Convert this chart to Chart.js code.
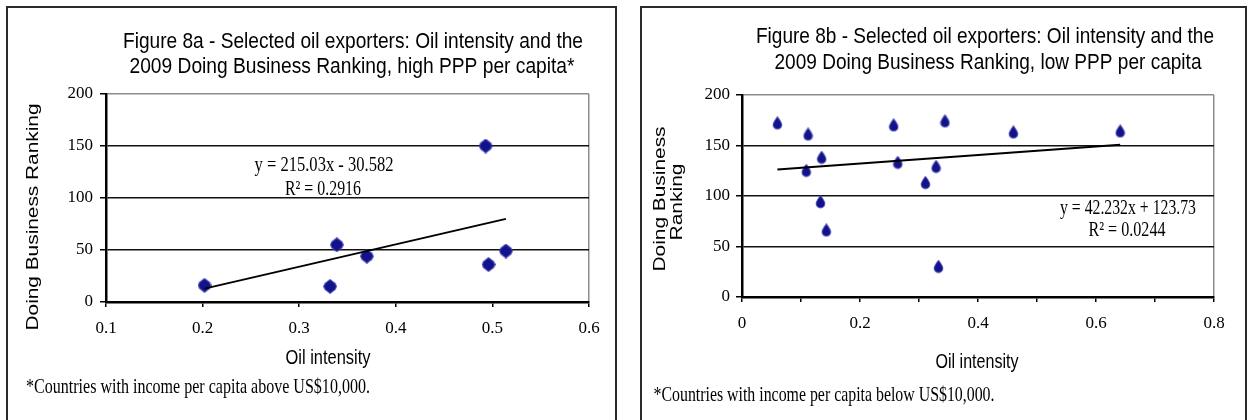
<!DOCTYPE html>
<html>
<head>
<meta charset="utf-8">
<title>Oil intensity and the 2009 Doing Business Ranking</title>
<script src="https://cdn.jsdelivr.net/npm/chart.js@4.4.0/dist/chart.umd.min.js"></script>
<style>
  html, body { margin: 0; padding: 0; background: #fff; overflow: hidden; }
  body { width: 1248px; height: 420px; position: relative; }
  .frame { position: absolute; top: 6px; height: 440px; border: 2px solid #2a2a2a; box-sizing: border-box; }
  #frameA { left: 6px; width: 611px; }
  #frameB { left: 640px; width: 607px; }
  canvas { position: absolute; top: 0; }
  #chartA { left: 0; }
  #chartB { left: 624px; }
</style>
</head>
<body>
<div class="frame" id="frameA"></div>
<div class="frame" id="frameB"></div>
<canvas id="chartA" width="624" height="420"></canvas>
<canvas id="chartB" width="624" height="420"></canvas>
<script>
// Figure 8a - exporters with high PPP per capita
const highIntensity = [0.202, 0.332, 0.339, 0.370, 0.493, 0.496, 0.514];
const highRanking = [16, 15, 55, 44, 150, 36, 49];
const highTrend = [215.03, -30.582];   // slope, intercept
const highXTicks = [0.1, 0.2, 0.3, 0.4, 0.5, 0.6];

// Figure 8b - exporters with low PPP per capita
const lowIntensity = [0.060, 0.112, 0.109, 0.135, 0.133, 0.143, 0.257, 0.264, 0.311, 0.329, 0.333, 0.344, 0.460, 0.641];
const lowRanking = [172, 161, 125, 138, 94, 66, 170, 133, 113, 129, 30, 174, 163, 164];
const lowTrend = [42.232, 123.73];
const lowXTicks = [0, 0.2, 0.4, 0.6, 0.8];   // labelled; minor marks every 0.1

const rankTicks = [0, 50, 100, 150, 200];

const NAVY = '#12128a';
const SANS = "'Liberation Sans', Arial, sans-serif";
const NARROW = "'Liberation Sans Narrow', 'Liberation Sans', Arial, sans-serif";
const SERIF = "'Liberation Serif', 'Times New Roman', serif";

// small bitmap markers, like the old spreadsheet diamonds
function makeMarker(w, h, shape) {
  const c = document.createElement('canvas');
  c.width = w; c.height = h;
  const g = c.getContext('2d');
  g.fillStyle = NAVY;
  g.strokeStyle = 'rgba(70,70,180,0.75)';
  g.lineWidth = 1.2;
  g.beginPath();
  if (shape === 'drop') {
    const r = w / 2 - 1.2;
    g.moveTo(w / 2, 0.6);
    g.quadraticCurveTo(w - 1.2, h * 0.45, w / 2 + r, h - r - 1.2);
    g.arc(w / 2, h - r - 1.2, r, 0, Math.PI);
    g.quadraticCurveTo(1.2, h * 0.45, w / 2, 0.6);
  } else {
    g.moveTo(w / 2, 0.6);
    g.lineTo(w - 2, h / 2 - 3);
    g.lineTo(w - 0.6, h / 2);
    g.lineTo(w - 2, h / 2 + 3);
    g.lineTo(w / 2, h - 0.6);
    g.lineTo(2, h / 2 + 3);
    g.lineTo(0.6, h / 2);
    g.lineTo(2, h / 2 - 3);
    g.closePath();
  }
  g.fill();
  g.stroke();
  return c;
}

// free text drawn on top: titles, axis names, trend equation, footnote
function notesPlugin(items) {
  return {
    id: 'notes',
    afterDraw(chart) {
      const ctx = chart.ctx;
      items.forEach(t => {
        ctx.save();
        ctx.font = t.font;
        ctx.fillStyle = '#000';
        ctx.textAlign = 'center';
        ctx.textBaseline = 'middle';
        ctx.translate(t.x, t.y);
        if (t.vertical) ctx.rotate(-Math.PI / 2);
        const w = ctx.measureText(t.text).width;
        ctx.scale(t.width / w, 1);
        ctx.fillText(t.text, 0, 0);
        ctx.restore();
      });
    }
  };
}

function near(list, v) {
  return list.some(t => Math.abs(t - v) < 1e-6);
}

function buildChart(id, cfg) {
  const points = cfg.xs.map((x, i) => ({ x: x, y: cfg.ys[i] }));
  const x0 = Math.min(...cfg.xs), x1 = Math.max(...cfg.xs);
  const trend = [x0, x1].map(x => ({ x: x, y: cfg.trend[0] * x + cfg.trend[1] }));
  const a = cfg.area;

  return new Chart(document.getElementById(id), {
    type: 'scatter',
    data: {
      datasets: [
        { data: trend, showLine: true, borderColor: '#000', borderWidth: 2, pointRadius: 0 },
        { data: points, pointStyle: cfg.marker, pointRadius: 7 }
      ]
    },
    options: {
      responsive: false,
      animation: false,
      devicePixelRatio: 1,
      layout: { padding: { left: 0, top: a.top, right: 624 - a.right, bottom: 0 } },
      plugins: { legend: { display: false }, tooltip: { enabled: false } },
      scales: {
        x: {
          type: 'linear',
          min: cfg.xTicks[0],
          max: cfg.xTicks[cfg.xTicks.length - 1],
          afterFit: s => { s.height = 420 - a.bottom; },
          grid: {
            color: c => c.index === c.scale.ticks.length - 1 ? '#8c8c8c' : 'rgba(0,0,0,0)',
            lineWidth: 1.5,
            tickLength: 5,
            tickColor: '#000',
            tickWidth: 1.5
          },
          border: { color: '#000', width: 2.5 },
          ticks: {
            stepSize: cfg.xStep,
            autoSkip: false,
            maxRotation: 0,
            padding: 11,
            color: '#000',
            font: { family: SERIF, size: 17 },
            callback: v => near(cfg.xTicks, v) ? (Math.abs(v) < 1e-9 ? '0' : v.toFixed(1)) : ''
          }
        },
        y: {
          type: 'linear',
          min: rankTicks[0],
          max: rankTicks[rankTicks.length - 1],
          afterFit: s => { s.width = a.left; },
          grid: {
            color: c => c.tick.value === 200 ? '#8c8c8c' : '#111',
            lineWidth: 1.5,
            tickLength: 6,
            tickColor: '#000',
            tickWidth: 1.5
          },
          border: { color: '#000', width: 2.5 },
          ticks: {
            stepSize: 50,
            padding: cfg.yPad,
            color: '#000',
            font: { family: SERIF, size: 17 }
          }
        }
      }
    },
    plugins: [notesPlugin(cfg.notes)]
  });
}

buildChart('chartA', {
  xs: highIntensity, ys: highRanking, trend: highTrend,
  xTicks: highXTicks, xStep: 0.1, yPad: 7,
  marker: makeMarker(14, 15, 'plus'),
  area: { left: 106, right: 589, top: 94, bottom: 302 },
  notes: [
    { text: 'Figure 8a - Selected oil exporters: Oil intensity and the', x: 353, y: 42, width: 460, font: '22px ' + NARROW },
    { text: '2009 Doing Business Ranking, high PPP per capita*', x: 352, y: 67, width: 445, font: '22px ' + NARROW },
    { text: 'Doing Business Ranking', x: 34, y: 217, width: 227, vertical: true, font: '16px ' + SANS },
    { text: 'Oil intensity', x: 328, y: 358, width: 85, font: '21px ' + NARROW },
    { text: 'y = 215.03x - 30.582', x: 324, y: 165, width: 139, font: '21px ' + SERIF },
    { text: 'R² = 0.2916', x: 323, y: 189, width: 76, font: '21px ' + SERIF },
    { text: '*Countries with income per capita above US$10,000.', x: 198, y: 387, width: 344, font: '21px ' + SERIF }
  ]
});

buildChart('chartB', {
  xs: lowIntensity, ys: lowRanking, trend: lowTrend,
  xTicks: lowXTicks, xStep: 0.1, yPad: 6,
  marker: makeMarker(11, 14, 'drop'),
  area: { left: 118, right: 590, top: 95, bottom: 297 },
  notes: [
    { text: 'Figure 8b - Selected oil exporters: Oil intensity and the', x: 361, y: 37, width: 458, font: '22px ' + NARROW },
    { text: '2009 Doing Business Ranking, low PPP per capita', x: 364, y: 63, width: 427, font: '22px ' + NARROW },
    { text: 'Doing Business', x: 37, y: 199, width: 145, vertical: true, font: '16px ' + SANS },
    { text: 'Ranking', x: 54, y: 202, width: 77, vertical: true, font: '16px ' + SANS },
    { text: 'Oil intensity', x: 353, y: 362, width: 83, font: '21px ' + NARROW },
    { text: 'y = 42.232x + 123.73', x: 504, y: 208, width: 136, font: '21px ' + SERIF },
    { text: 'R² = 0.0244', x: 503, y: 230, width: 77, font: '21px ' + SERIF },
    { text: '*Countries with income per capita below US$10,000.', x: 200, y: 395, width: 341, font: '21px ' + SERIF }
  ]
});
</script>
</body>
</html>
